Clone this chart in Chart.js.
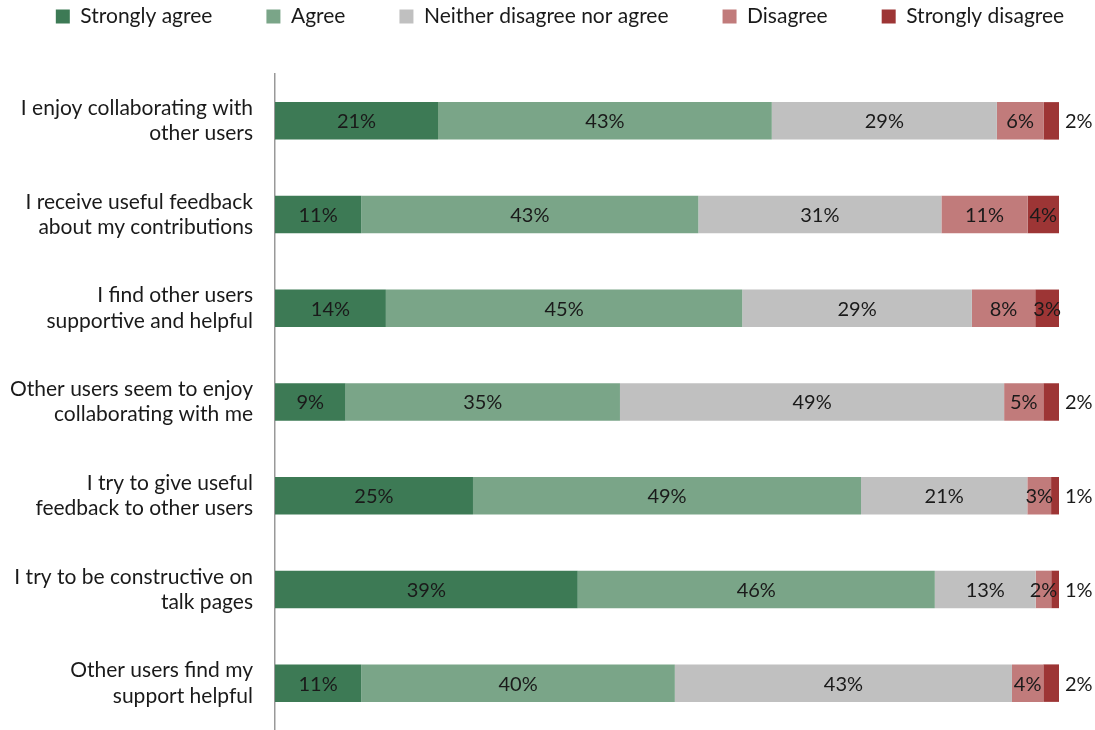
<!DOCTYPE html>
<html>
<head>
<meta charset="utf-8">
<script src="https://cdn.jsdelivr.net/npm/chart.js@4/dist/chart.umd.min.js"></script>
<style>
    html, body { margin: 0; padding: 0; background: #fff; }
    #wrap { width: 1095px; height: 730px; }
</style>
</head>
<body>
<div id="wrap"><canvas id="bar-chart"></canvas></div>
<script>
var aStatements = [
    ["I enjoy collaborating with", "other users"],
    ["I receive useful feedback", "about my contributions"],
    ["I find other users", "supportive and helpful"],
    ["Other users seem to enjoy", "collaborating with me"],
    ["I try to give useful", "feedback to other users"],
    ["I try to be constructive on", "talk pages"],
    ["Other users find my", "support helpful"]
];
var aResponses = ["Strongly agree", "Agree", "Neither disagree nor agree", "Disagree", "Strongly disagree"];
var aStronglyAgree = [21, 11, 14, 9, 25, 39, 11];
var aAgree = [43, 43, 45, 35, 49, 46, 40];
var aNeither = [29, 31, 29, 49, 21, 13, 43];
var aDisagree = [6, 11, 8, 5, 3, 2, 4];
var aStronglyDisagree = [2, 4, 3, 2, 1, 1, 2];
var aColors = ["#3d7a55", "#7aa588", "#c0c0c0", "#c17b7b", "#9d3535"];

var FONT = "Lato, 'Open Sans', sans-serif";
var aSeries = [aStronglyAgree, aAgree, aNeither, aDisagree, aStronglyDisagree];

// rounded answers don't always add up to 100, so each row is scaled to its own total
var aRowTotals = aStatements.map(function(s, i) {
    return aSeries.reduce(function(sum, arr) { return sum + arr[i]; }, 0);
});

var datasets = aSeries.map(function(arr, k) {
    return {
        label: aResponses[k],
        raw: arr,
        data: arr.map(function(v, i) { return v / aRowTotals[i] * 100; }),
        backgroundColor: aColors[k],
        borderWidth: 0,
        barPercentage: 1,
        categoryPercentage: 0.4
    };
});

// percentage labels: centred in the segment, thin end segments get it outside
var valueLabels = {
    id: 'valueLabels',
    afterDatasetsDraw: function(chart) {
        var ctx = chart.ctx;
        ctx.save();
        ctx.font = "20px " + FONT;
        ctx.fillStyle = "#1a1a1a";
        ctx.textBaseline = "middle";
        chart.data.datasets.forEach(function(ds, k) {
            var meta = chart.getDatasetMeta(k);
            meta.data.forEach(function(bar, i) {
                var v = ds.raw[i];
                var txt = v + "%";
                if (k === chart.data.datasets.length - 1 && v <= 2) {
                    ctx.textAlign = "left";
                    ctx.fillText(txt, bar.x + 6, bar.y + 1);
                } else {
                    ctx.textAlign = "center";
                    ctx.fillText(txt, (bar.x + bar.base) / 2, bar.y + 1);
                }
            });
        });
        ctx.restore();
    }
};

// legend items are spaced wide: keep them on one row, keep the block short
// and give it a wider box than the padded area so nothing wraps
var legendBox = {
    id: 'legendBox',
    beforeInit: function(chart) {
        var fit = chart.legend.fit;
        chart.legend.fit = function() {
            this.maxWidth = 2000;
            fit.call(this);
            this.height = 122;
        };
    },
    afterLayout: function(chart) {
        chart.legend.left = -40;
        chart.legend.right = 1160;
        chart.legend.width = 1200;
    }
};

new Chart(document.getElementById("bar-chart"), {
    type: 'bar',
    data: {
        labels: aStatements,
        datasets: datasets
    },
    plugins: [valueLabels, legendBox],
    options: {
        indexAxis: 'y',
        responsive: true,
        maintainAspectRatio: false,
        animation: false,
        layout: {
            padding: { top: -48, bottom: -3, left: 0, right: 36 }
        },
        plugins: {
            legend: {
                position: 'top',
                labels: {
                    boxWidth: 14,
                    boxHeight: 14,
                    padding: 54,
                    color: "#1a1a1a",
                    font: { family: FONT, size: 21 }
                }
            },
            tooltip: { enabled: false }
        },
        scales: {
            x: {
                stacked: true,
                display: false,
                min: 0,
                max: 100
            },
            y: {
                stacked: true,
                grid: { display: false, drawTicks: false },
                border: { display: true, color: "#999", width: 1.5 },
                ticks: {
                    padding: 22,
                    color: "#1a1a1a",
                    font: { family: FONT, size: 21, lineHeight: 1.2 }
                },
                afterFit: function(scale) {
                    scale.width = 275;
                    scale.paddingTop = 0;
                    scale.paddingBottom = 0;
                }
            }
        }
    }
});
</script>
</body>
</html>
